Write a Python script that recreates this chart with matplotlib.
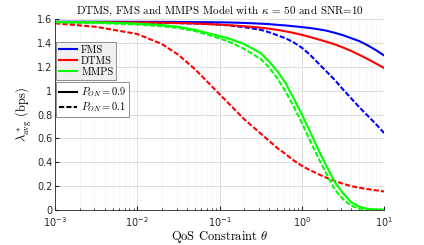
import numpy as np
import matplotlib
matplotlib.use("Agg")
import matplotlib.pyplot as plt
from matplotlib.lines import Line2D

# log10(theta) sample points
log_theta = [-3, -2.5, -2, -1.7, -1.5, -1.3, -1.1, -0.9, -0.7, -0.5, -0.4, -0.3, -0.2, -0.1,
             0, 0.1, 0.2, 0.3, 0.4, 0.5, 0.6, 0.7, 0.8, 0.9, 1.0]
theta = [10 ** v for v in log_theta]

fms_09 = [1.578, 1.578, 1.577, 1.577, 1.576, 1.575, 1.574, 1.572, 1.568, 1.562, 1.558, 1.552,
          1.547, 1.540, 1.533, 1.525, 1.515, 1.503, 1.485, 1.465, 1.44, 1.415, 1.38, 1.34, 1.295]
fms_01 = [1.572, 1.571, 1.570, 1.568, 1.566, 1.563, 1.558, 1.548, 1.532, 1.51, 1.49, 1.465,
          1.44, 1.405, 1.36, 1.30, 1.23, 1.16, 1.09, 1.01, 0.935, 0.86, 0.79, 0.72, 0.645]
dtms_09 = [1.575, 1.574, 1.572, 1.570, 1.567, 1.563, 1.557, 1.55, 1.54, 1.528, 1.52, 1.51,
           1.498, 1.484, 1.468, 1.45, 1.43, 1.41, 1.388, 1.362, 1.333, 1.30, 1.265, 1.228, 1.19]
dtms_01 = [1.565, 1.535, 1.475, 1.39, 1.30, 1.18, 1.04, 0.90, 0.76, 0.64, 0.58, 0.52,
           0.47, 0.415, 0.37, 0.333, 0.30, 0.27, 0.243, 0.22, 0.20, 0.186, 0.175, 0.165, 0.155]
mmps_09 = [1.576, 1.574, 1.562, 1.55, 1.535, 1.51, 1.475, 1.44, 1.39, 1.315, 1.245, 1.165,
           1.065, 0.936, 0.80, 0.655, 0.505, 0.367, 0.233, 0.14, 0.065, 0.027, 0.01, 0.004, 0.002]
mmps_01 = [1.572, 1.568, 1.555, 1.54, 1.525, 1.50, 1.46, 1.415, 1.35, 1.265, 1.195, 1.105,
           0.995, 0.867, 0.73, 0.58, 0.436, 0.30, 0.17, 0.09, 0.035, 0.012, 0.004, 0.002, 0.001]

xlim = (1e-3, 1e1)
ylim = (0, 1.6)
yticks = [0, 0.2, 0.4, 0.6, 0.8, 1.0, 1.2, 1.4, 1.6]
ytick_labels = ["0", "0.2", "0.4", "0.6", "0.8", "1", "1.2", "1.4", "1.6"]

plt.rcParams['mathtext.fontset'] = 'cm'
plt.rcParams['axes.formatter.use_mathtext'] = True

fig = plt.figure(figsize=(4.24, 2.45), dpi=100)
ax = fig.add_axes([0.130, 0.143, 0.776, 0.779])

lw = 1.5
dash = (0, (2.5, 1.0))
ax.plot(theta, fms_09, color='#0000ff', lw=lw)
ax.plot(theta, fms_01, color='#0000ff', lw=lw, ls=dash)
ax.plot(theta, dtms_09, color='#ff0000', lw=lw)
ax.plot(theta, dtms_01, color='#ff0000', lw=lw, ls=dash)
ax.plot(theta, mmps_09, color='#00ff00', lw=lw)
ax.plot(theta, mmps_01, color='#00ff00', lw=lw, ls=dash)

ax.set_xscale('log')
ax.set_xlim(*xlim)
ax.set_ylim(*ylim)
ax.set_yticks(yticks)
ax.set_yticklabels(ytick_labels)
ax.grid(True, which='major', color='#d9d9d9', lw=0.6)
ax.grid(True, which='minor', color='#e0e0e0', lw=0.5, ls=':')
ax.tick_params(which='both', direction='in', labelsize=7, colors='#262626')
ax.tick_params(axis='y', pad=2)
ax.tick_params(axis='x', pad=3.5)
ax.tick_params(which='major', length=3)
ax.tick_params(which='minor', length=1.5)
for s in ['top', 'right']:
    ax.spines[s].set_visible(False)
for s in ['left', 'bottom']:
    ax.spines[s].set_color('#262626')
    ax.spines[s].set_linewidth(0.6)

ax.set_title(r'DTMS, FMS and MMPS Model with $\kappa$ = 50 and SNR=10',
             fontsize=8, family='cmr10', pad=4)
ax.set_xlabel(r'QoS Constraint $\theta$', fontsize=9, family='cmr10', labelpad=0)
ax.set_ylabel(r'$\lambda^*_{\rm avg}$ (bps)', fontsize=9, family='cmr10', labelpad=2)

h1 = [Line2D([], [], color='#0000ff', lw=lw),
      Line2D([], [], color='#ff0000', lw=lw),
      Line2D([], [], color='#00ff00', lw=lw)]
leg1 = ax.legend(h1, ['FMS', 'DTMS', 'MMPS'], loc='upper left',
                 bbox_to_anchor=(0.003, 0.88), prop={'family': 'cmr10', 'size': 7.5},
                 fancybox=False, framealpha=1, facecolor='#f0f0f0', edgecolor='#7f7f7f',
                 handlelength=1.7, handletextpad=0.4, borderpad=0.3, labelspacing=0.15,
                 borderaxespad=0)
leg1.get_frame().set_linewidth(0.6)
ax.add_artist(leg1)
h2 = [Line2D([], [], color='black', lw=lw),
      Line2D([], [], color='black', lw=lw, ls=dash)]
leg2 = ax.legend(h2, [r'$P_{ON}=0.9$', r'$P_{ON}=0.1$'], loc='upper left',
                 bbox_to_anchor=(0.003, 0.67), prop={'size': 7.5},
                 fancybox=False, framealpha=1, facecolor='white', edgecolor='#7f7f7f',
                 handlelength=1.7, handletextpad=0.4, borderpad=0.3, labelspacing=0.15,
                 borderaxespad=0)
leg2.get_frame().set_linewidth(0.6)

fig.savefig('out.png', dpi=100)
